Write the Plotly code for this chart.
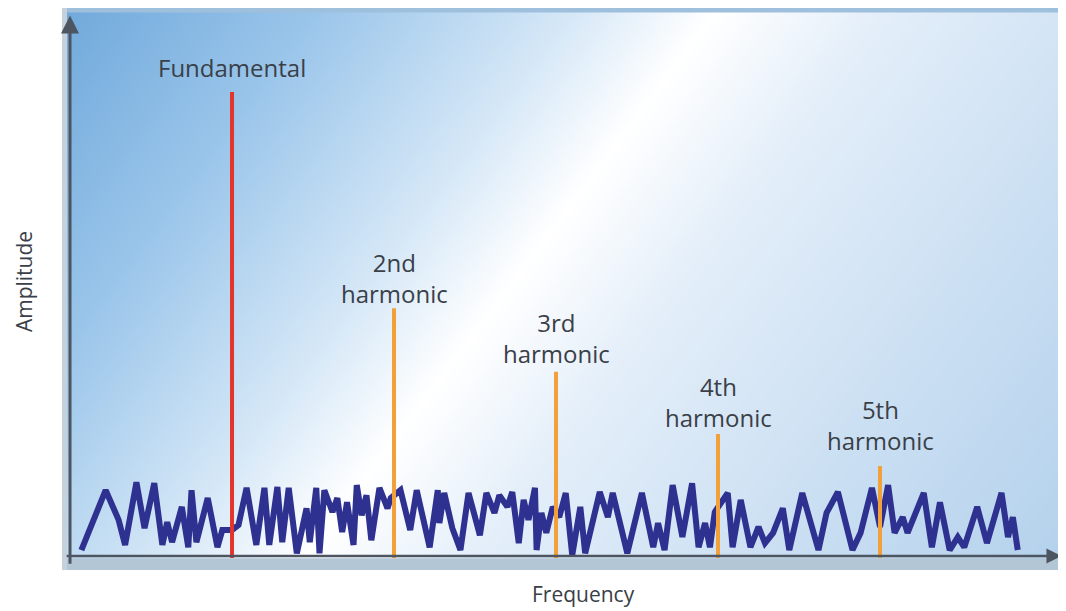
import plotly.graph_objects as go
import numpy as np

# spectral lines (frequency in multiples of the fundamental, amplitude relative to fundamental)
harmonic_freq = [1, 2, 3, 4, 5]
harmonic_amp = [1.0, 0.534, 0.397, 0.263, 0.194]
harmonic_labels = ["Fundamental", "2nd<br>harmonic", "3rd<br>harmonic",
                   "4th<br>harmonic", "5th<br>harmonic"]
harmonic_colors = ["#e2352b", "#f2a03a", "#f2a03a", "#f2a03a", "#f2a03a"]
label_shift = [6, -4, 0, -2, 7]

# noise floor
noise_freq = [
    0.07, 0.22, 0.30, 0.34, 0.41, 0.46, 0.52, 0.57, 0.60, 0.63, 0.69, 0.73, 0.75, 0.78,
    0.85, 0.91, 0.94, 1.00, 1.04, 1.09, 1.15, 1.20, 1.23, 1.28, 1.31, 1.35, 1.40, 1.46,
    1.48, 1.52, 1.54, 1.57, 1.62, 1.65, 1.68, 1.71, 1.75, 1.77, 1.80, 1.83, 1.86, 1.91,
    1.96, 1.98, 2.04, 2.10, 2.14, 2.22, 2.27, 2.28, 2.31, 2.36, 2.41, 2.46, 2.53, 2.57,
    2.62, 2.65, 2.70, 2.73, 2.77, 2.80, 2.83, 2.87, 2.88, 2.91, 2.94, 2.98, 3.02, 3.06,
    3.10, 3.15, 3.18, 3.27, 3.32, 3.35, 3.44, 3.53, 3.60, 3.63, 3.67, 3.72, 3.78, 3.84,
    3.88, 3.92, 3.95, 3.98, 4.06, 4.09, 4.14, 4.20, 4.25, 4.29, 4.34, 4.40, 4.44, 4.52,
    4.62, 4.67, 4.74, 4.83, 4.88, 4.95, 5.00, 5.05, 5.09, 5.14, 5.17, 5.27, 5.32, 5.37,
    5.43, 5.48, 5.52, 5.60, 5.66, 5.75, 5.79, 5.82, 5.85,
]
noise_amp = [
    0.013, 0.142, 0.078, 0.024, 0.159, 0.060, 0.157, 0.024, 0.073, 0.030, 0.106, 0.019, 0.142, 0.030,
    0.125, 0.019, 0.056, 0.056, 0.067, 0.147, 0.024, 0.147, 0.024, 0.149, 0.030, 0.147, 0.006, 0.103,
    0.030, 0.147, 0.006, 0.142, 0.095, 0.125, 0.052, 0.116, 0.024, 0.153, 0.088, 0.131, 0.034, 0.147,
    0.103, 0.125, 0.142, 0.056, 0.142, 0.019, 0.142, 0.071, 0.136, 0.060, 0.013, 0.136, 0.045, 0.136,
    0.093, 0.131, 0.106, 0.138, 0.028, 0.121, 0.078, 0.147, 0.013, 0.093, 0.050, 0.106, 0.084, 0.136,
    0.002, 0.106, 0.006, 0.138, 0.084, 0.136, 0.006, 0.136, 0.019, 0.071, 0.013, 0.153, 0.041, 0.157,
    0.019, 0.071, 0.019, 0.095, 0.136, 0.019, 0.121, 0.019, 0.063, 0.028, 0.050, 0.103, 0.013, 0.136,
    0.013, 0.093, 0.138, 0.013, 0.050, 0.147, 0.063, 0.153, 0.050, 0.084, 0.050, 0.136, 0.019, 0.116,
    0.013, 0.041, 0.019, 0.106, 0.028, 0.136, 0.041, 0.084, 0.013,
]

x_range = [-0.031, 6.148]
y_range = [-0.030, 1.181]

fig = go.Figure()

# diagonal blue-white-blue backdrop
gx = np.linspace(-0.1, 6.25, 80)
gy = np.linspace(-0.1, 1.25, 50)
GX, GY = np.meshgrid(gx, gy)
t = 4 * (70 + GX * 162) + 3 * (556 - GY * 464)
t = np.clip((t - 275) / (5974 - 275), 0, 1)
fig.add_trace(go.Heatmap(
    x=gx, y=gy, z=t, zmin=0, zmax=1, zsmooth="best", showscale=False, hoverinfo="skip",
    colorscale=[[0, "#70a9db"], [0.18, "#9ac5ea"], [0.36, "#d6e8f7"], [0.46, "#ffffff"],
                [0.58, "#e3eef9"], [0.8, "#c9def2"], [1, "#b3d1ec"]],
))

#noise floor
fig.add_trace(go.Scatter(
    x=noise_freq, y=noise_amp, mode="lines",
    line=dict(color="#2e3190", width=6), hoverinfo="skip"
))

#fundamental and harmonics
for f, a, c in zip(harmonic_freq, harmonic_amp, harmonic_colors):
    fig.add_trace(go.Scatter(
        x=[f, f], y=[-0.004, a], mode="lines",
        line=dict(color=c, width=4), hoverinfo="skip"
    ))

for f, a, lab, s in zip(harmonic_freq, harmonic_amp, harmonic_labels, label_shift):
    fig.add_annotation(
        x=f, y=a, text=lab, showarrow=False, yanchor="bottom", yshift=s,
        font=dict(family="Open Sans", size=24, color="#3a4048")
    )

# frame bands
fig.add_shape(type="rect", xref="paper", yref="paper", x0=0, x1=1, y0=0, y1=0.021,
              fillcolor="#b3c6d6", line_width=0, layer="above")
fig.add_shape(type="rect", xref="paper", yref="paper", x0=0, x1=1, y0=0.992, y1=1,
              fillcolor="#9fc0dd", line_width=0, layer="above")
fig.add_shape(type="rect", xref="paper", yref="paper", x0=-0.003, x1=0.002, y0=0, y1=1,
              fillcolor="#c5d1db", line_width=0, layer="above")

# axes with arrow heads
fig.add_annotation(x=6.12, y=0, ax=-0.03, ay=0, xref="x", yref="y", axref="x", ayref="y",
                   showarrow=True, arrowhead=2, arrowsize=1.2, arrowwidth=2.5, arrowcolor="#4d5660", text="")
fig.add_annotation(x=0, y=1.165, ax=0, ay=-0.02, xref="x", yref="y", axref="x", ayref="y",
                   showarrow=True, arrowhead=2, arrowsize=1.2, arrowwidth=3, arrowcolor="#4d5660", text="")

fig.add_annotation(x=-0.041, y=0.514, xref="paper", yref="paper", text="Amplitude", textangle=-90,
                   xanchor="center", yanchor="middle",
                   showarrow=False, font=dict(family="Open Sans", size=21, color="#3a4048"))
fig.add_annotation(x=0.5175, y=-0.0427, xref="paper", yref="paper", text="Frequency",
                   xanchor="center", yanchor="middle",
                   showarrow=False, font=dict(family="Open Sans", size=21, color="#3a4048"))

# page body keeps its default 8px margin, so the figure is sized to fit the window
fig.update_layout(
    width=1058, height=603,
    margin=dict(l=57, r=0, t=0, b=41),
    paper_bgcolor="white",
    plot_bgcolor="white",
    showlegend=False,
    xaxis=dict(range=x_range, visible=False, fixedrange=True),
    yaxis=dict(range=y_range, visible=False, fixedrange=True),
)

fig.write_html("out.html")
